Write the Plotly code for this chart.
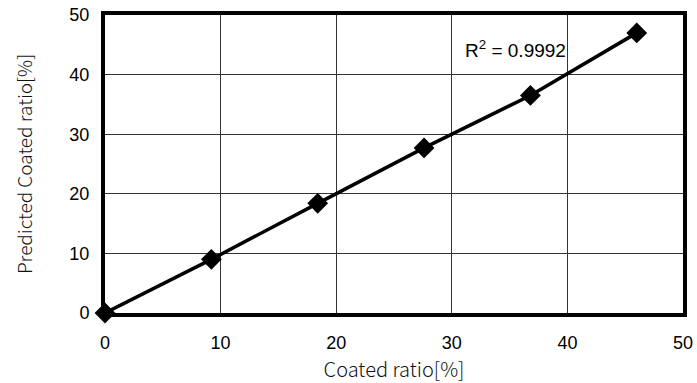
import plotly.graph_objects as go

# Measured vs. predicted coating ratio
coated_ratio = [0, 9.2, 18.4, 27.6, 36.8, 46.0]
predicted_ratio = [0, 9.0, 18.4, 27.7, 36.5, 47.0]
r_squared_label = "R<sup>2</sup> = 0.9992"
tick_values = [0, 10, 20, 30, 40, 50]

fig = go.Figure()
fig.add_trace(go.Scatter(
    x=coated_ratio, y=predicted_ratio,
    mode="lines+markers",
    line=dict(color="black", width=3.5),
    marker=dict(symbol="diamond", size=16, color="black"),
    cliponaxis=False,
    showlegend=False,
))

fig.add_annotation(
    x=35.5, y=44.3, text=r_squared_label, showarrow=False,
    font=dict(family="Liberation Sans, Arial", size=19, color="black"),
)

axis_common = dict(
    range=[0, 50], tickvals=tick_values,
    showgrid=True, gridcolor="#333333", gridwidth=1,
    zeroline=False, showline=True, linecolor="black", linewidth=4,
    mirror=True, ticks="", fixedrange=True, automargin=False,
    tickfont=dict(family="Liberation Sans, Arial", size=18, color="black"),
)

fig.update_xaxes(
    **axis_common,
    ticklabelstandoff=10,
    title=dict(text="Coated ratio[%]", standoff=15,
               font=dict(family="Noto Sans CJK JP, Liberation Sans", size=20,
                         color="#111111", weight=300)),
)
fig.update_yaxes(
    **axis_common,
    ticklabelstandoff=8,
    title=dict(text="Predicted Coated ratio[%]", standoff=33,
               font=dict(family="Noto Sans CJK JP, Liberation Sans", size=19,
                         color="#111111", weight=300)),
)

fig.update_layout(
    width=697, height=383,
    margin=dict(l=105, r=14, t=15, b=70),
    paper_bgcolor="white", plot_bgcolor="white",
)

fig.write_html("out.html")
